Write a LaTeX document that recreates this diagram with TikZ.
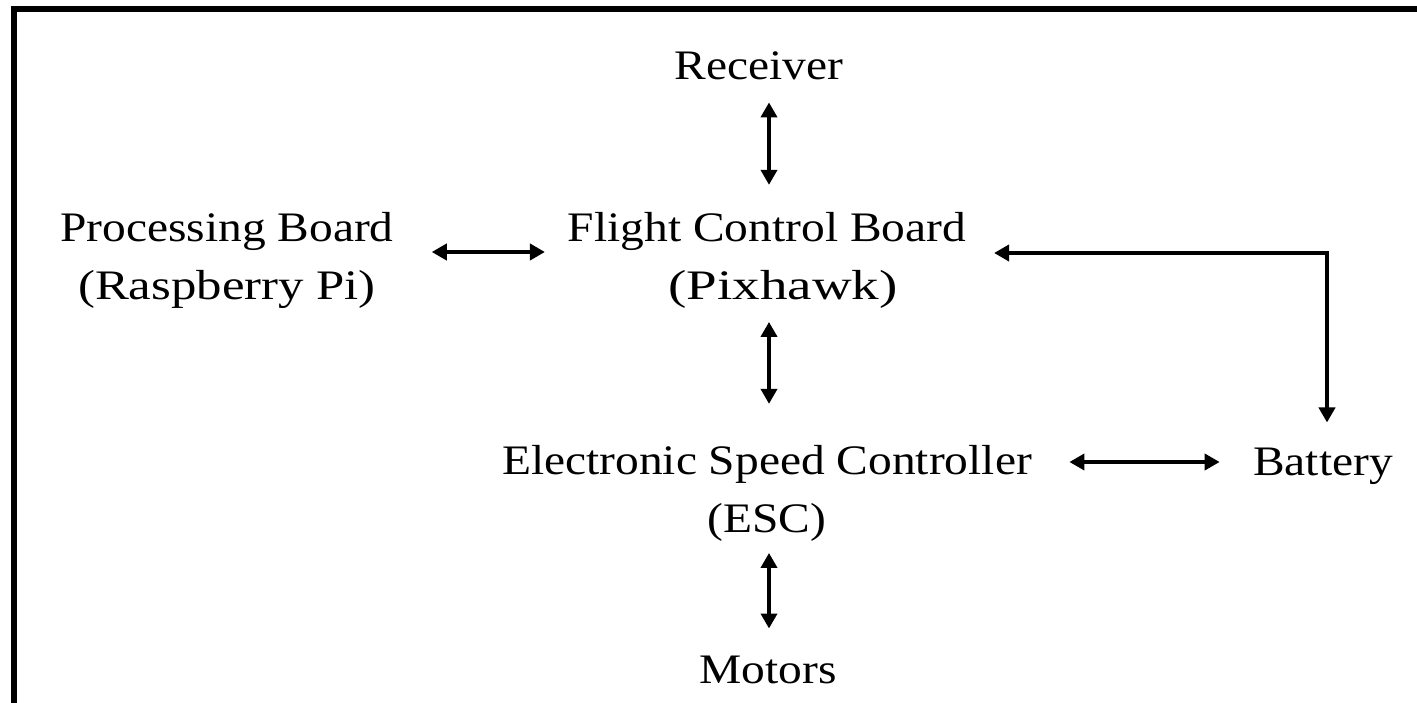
\documentclass[tikz,border=0pt]{standalone}
\usepackage{fontspec}
\usepackage{graphicx}
\setmainfont{Liberation Serif}[FakeStretch=1.13]
\usetikzlibrary{arrows.meta}
\begin{document}
\begin{tikzpicture}[x=1pt,y=-1pt,
  lbl/.style={inner sep=0pt, outer sep=0pt, align=center, anchor=base, font=\fontsize{42}{58}\selectfont},
  arr/.style={line width=4pt, {Triangle[length=15pt,width=16pt]}-{Triangle[length=15pt,width=16pt]}},
  frame/.style={line width=6pt, line join=miter}]
\useasboundingbox (0,0) rectangle (1417,703);
\fill[white] (0,0) rectangle (1417,703);
\draw[frame] (14,703) -- (14,9) -- (1417,9);

\node[lbl] (rec) at (759,80) {Receiver};
\node[lbl] (fcb) at (767,300) {Flight Control Board\\\hspace*{32pt}\scalebox{1.16}[1]{(Pixhawk)}};
\node[lbl] (pb)  at (227,300) {Processing Board\\\scalebox{1.07}[1]{(Raspberry Pi)}};
\node[lbl] (esc) at (767,532) {Electronic Speed Controller\\(ESC)};
\node[lbl] (bat) at (1323,475) {Battery};
\node[lbl] (mot) at (768,683) {Motors};

\coordinate (ax) at (769,0);
\draw[arr] ([yshift=-22pt]rec.south -| ax) -- ([yshift=28pt]fcb.north -| ax);
\draw[arr] ([yshift=-13pt]fcb.south -| ax) -- ([yshift=41pt]esc.north -| ax);
\draw[arr] ([yshift=-12pt]esc.south -| ax) -- ([yshift=27pt]mot.north -| ax);
\draw[arr] ([xshift=38pt]pb.east |- 0,252) -- ([xshift=-23pt]fcb.west |- 0,252);
\draw[arr] ([xshift=37.5pt]esc.east |- 0,462) -- ([xshift=-33.5pt]bat.west |- 0,462);
\draw[arr] ([xshift=28pt]fcb.east |- 0,253) -| ([yshift=25pt]bat.north -| 1327,0);
\end{tikzpicture}
\end{document}
